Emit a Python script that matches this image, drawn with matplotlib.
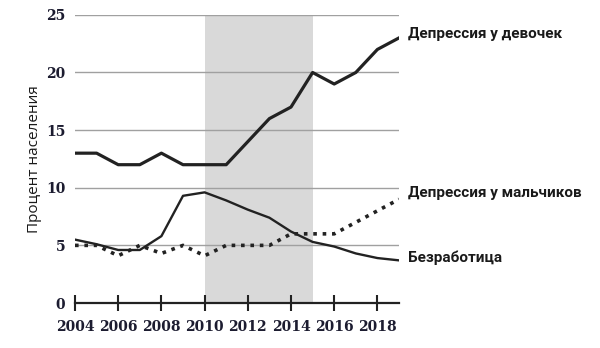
import numpy as np
import matplotlib
matplotlib.use("Agg")
import matplotlib.pyplot as plt

years = np.arange(2004, 2020)
girls = [13, 13, 12, 12, 13, 12, 12, 12, 14, 16, 17, 20, 19, 20, 22, 23]
boys = [5, 5, 4.1, 5, 4.3, 5, 4.1, 5, 5, 5, 6, 6, 6, 7, 8, 9]
unemployment = [5.5, 5.1, 4.6, 4.6, 5.8, 9.3, 9.6, 8.9, 8.1, 7.4, 6.2, 5.3, 4.9, 4.3, 3.9, 3.7]
labels = ["Депрессия у девочек", "Депрессия у мальчиков", "Безработица"]
label_y = [23.35, 9.55, 3.9]
xticks = np.arange(2004, 2020, 2)
yticks = [0, 5, 10, 15, 20, 25]

fig = plt.figure(figsize=(6, 3.48), dpi=100)
ax = fig.add_axes([0.125, 0.1293, 0.54, 0.828])

# recession band
ax.axvspan(2010, 2015, color="#d9d9d9", lw=0, zorder=0)
for y in yticks[1:]:
    ax.axhline(y, color="#a0a0a0", lw=1.0, zorder=1)

ink = "#222222"
ax.plot(years, girls, color=ink, lw=2.3, zorder=3)
ax.plot(years, unemployment, color=ink, lw=1.7, zorder=3)
ax.plot(years, boys, color=ink, lw=2.6, ls=(0, (1, 1.6)), zorder=3)

for txt, yy in zip(labels, label_y):
    ax.text(2019.4, yy, txt, fontsize=11, fontweight="bold",
            family="Roboto", color="#1a1a1a", va="center", ha="left",
            clip_on=False)

ax.set_xlim(2004, 2019)
ax.set_ylim(0, 25)
ax.set_xticks(xticks)
ax.set_yticks(yticks)

for s in ["top", "right", "left"]:
    ax.spines[s].set_visible(False)
ax.spines["bottom"].set_linewidth(1.6)
ax.spines["bottom"].set_color(ink)
ax.tick_params(axis="x", direction="inout", length=12, width=1.5, color=ink, pad=6)
ax.tick_params(axis="y", length=0, pad=7)
for lab in ax.get_xticklabels() + ax.get_yticklabels():
    lab.set_fontfamily("DejaVu Serif")
    lab.set_fontweight("bold")
    lab.set_fontsize(10)
    lab.set_color("#1c1c30")

ax.set_ylabel("Процент населения", fontsize=11, family="Open Sans", color="#1a1a1a", labelpad=3)

fig.savefig("out.png", dpi=100)
